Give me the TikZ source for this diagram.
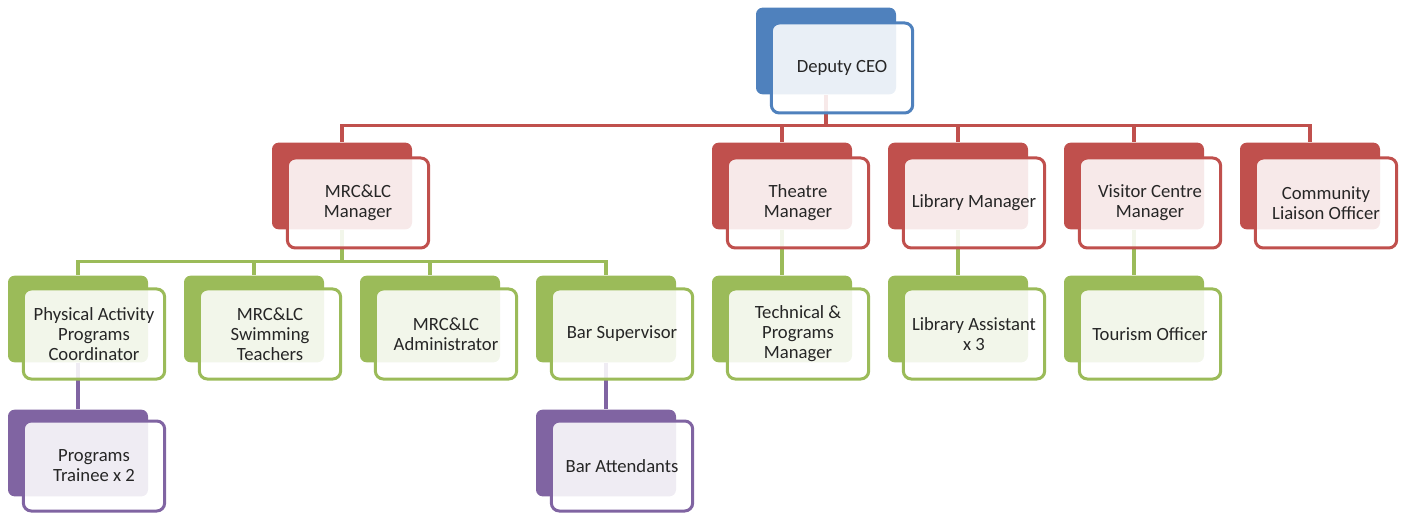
\documentclass[tikz,border=0pt]{standalone}
\usepackage{fontspec}
\setmainfont{Carlito}
\usetikzlibrary{backgrounds}
\definecolor{ceoblue}{HTML}{4F81BD}
\definecolor{mgrred}{HTML}{C0504D}
\definecolor{staffgreen}{HTML}{9BBB59}
\definecolor{traineepurple}{HTML}{8064A2}
\definecolor{textgrey}{HTML}{262626}
\begin{document}
\begin{tikzpicture}[x=0.75pt,y=-0.75pt,
  back/.style={rectangle,rounded corners=5pt,fill=#1,minimum width=105pt,minimum height=65pt,inner sep=0pt},
  front/.style={rectangle,rounded corners=6pt,draw=#1,line width=2.25pt,fill=white,fill opacity=0.88,text opacity=1,text=textgrey,
    minimum width=106pt,minimum height=67.5pt,inner sep=0pt,align=center,font=\fontsize{14}{15}\selectfont},
  link/.style={draw=#1,line width=2.6pt}]
\useasboundingbox (0,0) rectangle (1406,513);
% back boxes
\node [back=ceoblue](ceo) at (826,51) {};
\node [back=mgrred](mrc) at (342,186) {};
\node [back=mgrred](thm) at (782,186) {};
\node [back=mgrred](lib) at (958,186) {};
\node [back=mgrred](vcm) at (1134,186) {};
\node [back=mgrred](clo) at (1310,186) {};
\node [back=staffgreen](pac) at (78,319) {};
\node [back=staffgreen](swt) at (254,319) {};
\node [back=staffgreen](adm) at (430,319) {};
\node [back=staffgreen](bsv) at (606,319) {};
\node [back=staffgreen](tpm) at (782,319) {};
\node [back=staffgreen](las) at (958,319) {};
\node [back=staffgreen](tou) at (1134,319) {};
\node [back=traineepurple](trn) at (78,453) {};
\node [back=traineepurple](bat) at (606,453) {};
% connectors
\begin{scope}[on background layer]
\draw [link=mgrred] (ceo.south) -- ++(0,31) coordinate (r1);
\foreach \n in {mrc,thm,lib,vcm,clo}
  \draw [link=mgrred] (r1) -| (\n.north);
\draw [link=staffgreen] (mrc.south) -- ++(0,32) coordinate (g1);
\foreach \n in {pac,swt,adm,bsv}
  \draw [link=staffgreen] (g1) -| (\n.north);
\draw [link=staffgreen] (thm.south) -- (tpm.north);
\draw [link=staffgreen] (lib.south) -- (las.north);
\draw [link=staffgreen] (vcm.south) -- (tou.north);
\draw [link=traineepurple] (pac.south) -- (trn.north);
\draw [link=traineepurple] (bsv.south) -- (bat.north);
\end{scope}
% front boxes
\node [front=ceoblue](ceo-f) at ([shift={(16,17)}]ceo) {Deputy CEO};
\node [front=mgrred](mrc-f) at ([shift={(16,17)}]mrc) {MRC\&LC\\Manager};
\node [front=mgrred](thm-f) at ([shift={(16,17)}]thm) {Theatre\\Manager};
\node [front=mgrred](lib-f) at ([shift={(16,17)}]lib) {Library Manager};
\node [front=mgrred](vcm-f) at ([shift={(16,17)}]vcm) {Visitor Centre\\Manager};
\node [front=mgrred](clo-f) at ([shift={(16,17)}]clo) {Community\\Liaison Officer};
\node [front=staffgreen](pac-f) at ([shift={(16,15)}]pac) {Physical Activity\\Programs\\Coordinator};
\node [front=staffgreen](swt-f) at ([shift={(16,15)}]swt) {MRC\&LC\\Swimming\\Teachers};
\node [front=staffgreen](adm-f) at ([shift={(16,15)}]adm) {MRC\&LC\\Administrator};
\node [front=staffgreen](bsv-f) at ([shift={(16,15)}]bsv) {Bar Supervisor};
\node [front=staffgreen](tpm-f) at ([shift={(16,15)}]tpm) {Technical \&\\Programs\\Manager};
\node [front=staffgreen](las-f) at ([shift={(16,15)}]las) {Library Assistant\\x 3};
\node [front=staffgreen](tou-f) at ([shift={(16,15)}]tou) {Tourism Officer};
\node [front=traineepurple](trn-f) at ([shift={(16,13)}]trn) {Programs\\Trainee x 2};
\node [front=traineepurple](bat-f) at ([shift={(16,13)}]bat) {Bar Attendants};
\end{tikzpicture}
\end{document}
